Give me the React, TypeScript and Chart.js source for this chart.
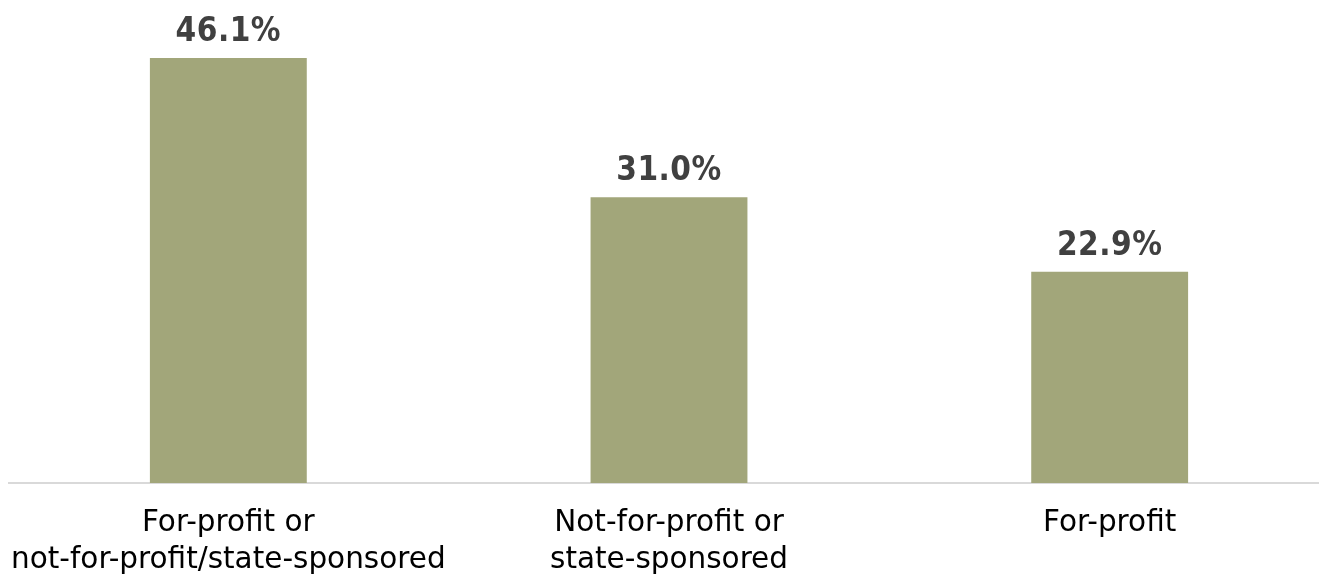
import React, { useEffect, useRef } from "react";
import { Chart, registerables } from "chart.js";

Chart.register(...registerables);

const categories: string[][] = [
  ["For-profit or", "not-for-profit/state-sponsored"],
  ["Not-for-profit or", "state-sponsored"],
  ["For-profit"],
];
const values: number[] = [46.1, 31.0, 22.9];
const valueLabels: string[] = ["46.1%", "31.0%", "22.9%"];

const LABEL_FONT = "'DejaVu Sans', sans-serif";
const VALUE_FONT = "'DejaVu Sans Condensed', 'DejaVu Sans', sans-serif";

const labelsPlugin = {
  id: "customLabels",
  afterDatasetsDraw(chart: any) {
    const ctx = chart.ctx;
    const meta = chart.getDatasetMeta(0);
    const xScale = chart.scales.x;
    const axisY = chart.chartArea.bottom;
    ctx.save();
    // value labels above bars
    ctx.font = `bold 33px ${VALUE_FONT}`;
    try {
      (ctx as any).letterSpacing = "0.5px";
    } catch (e) {}
    ctx.fillStyle = "#404040";
    ctx.textAlign = "center";
    ctx.textBaseline = "alphabetic";
    meta.data.forEach((bar: any, i: number) => {
      ctx.fillText(valueLabels[i], bar.x, bar.y - 17);
    });
    // category labels below axis
    try {
      (ctx as any).letterSpacing = "0px";
    } catch (e) {}
    ctx.font = `29.5px ${LABEL_FONT}`;
    ctx.fillStyle = "#000000";
    categories.forEach((lines, i) => {
      const x = xScale.getPixelForValue(i);
      lines.forEach((line, j) => {
        ctx.fillText(line, x, axisY + 48 + j * 37);
      });
    });
    ctx.restore();
  },
};

export default function App() {
  const ref = useRef<HTMLCanvasElement>(null);
  useEffect(() => {
    document.body.style.overflow = "hidden";
    const chart = new Chart(ref.current!, {
      type: "bar",
      data: {
        labels: categories.map((c) => c.join(" ")),
        datasets: [
          {
            data: values,
            backgroundColor: "#A2A67A",
            borderWidth: 0,
            categoryPercentage: 1,
            barPercentage: 0.356,
          },
        ],
      },
      options: {
        animation: false,
        responsive: true,
        maintainAspectRatio: false,
        layout: { padding: { top: 14, left: 0, right: 0, bottom: 92 } },
        plugins: { legend: { display: false }, tooltip: { enabled: false } },
        scales: {
          y: { display: false, min: 0, max: 50 },
          x: {
            grid: { display: false, drawTicks: false },
            border: { color: "#D9D9D9", width: 2 },
            ticks: { display: false },
          },
        },
      },
      plugins: [labelsPlugin],
    });
    return () => chart.destroy();
  }, []);
  return (
    <div style={{ position: "relative", width: 1322, height: 567 }}>
      <canvas ref={ref} />
    </div>
  );
}
